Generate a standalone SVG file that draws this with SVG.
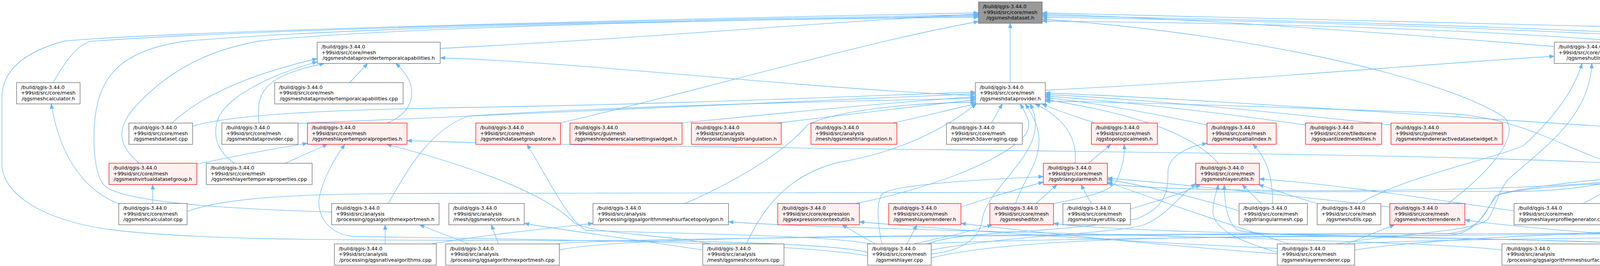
<svg xmlns="http://www.w3.org/2000/svg" width="7162" height="681" viewBox="0 0 7162 681">
<style>
text{font-family:"DejaVu Sans","Liberation Sans",sans-serif;font-size:12.8px;fill:#000}
.c{text-anchor:middle}
.n rect{fill:#ffffff;stroke:#666666;stroke-width:1.3}
.r rect{fill:#fff0f0;stroke:#ff0000;stroke-width:1.3}
.m rect{fill:#999999;stroke:#666666;stroke-width:1.3}
#edges path{fill:none;stroke:#63b8ff;stroke-width:1.3;marker-end:url(#a)}
</style>
<defs>
<marker id="a" markerUnits="userSpaceOnUse" markerWidth="13" markerHeight="10" refX="12" refY="4.5" orient="auto" overflow="visible"><path d="M0,0 L12,4.5 L0,9 z" fill="#63b8ff" stroke="#63b8ff" stroke-width="1"/></marker>
</defs>
<rect x="0" y="0" width="7162" height="681" fill="#ffffff"/>
<g id="edges">
<path d="M2586,211.5 L2586,59.5"/>
<path d="M1127,124 C1700,95 2200,50 2505,36"/>
<path d="M136,211.5 C160,170 190,120 230,106 C700,70 2000,46 2505,38"/>
<path d="M356,418 C300,370 300,330 340,280 C420,190 520,130 665,105 C1000,68 2000,48 2505,41"/>
<path d="M849,543 C600,535 320,520 268,476 C235,440 238,330 245,290 C260,180 330,125 478,105 C1000,62 2000,49 2505,44"/>
<path d="M2221,646 C2100,618 1700,615 1200,615 C800,615 500,612 300,590 C120,570 5,500 5,420 L5,250 C5,170 80,128 165,105 C500,75 2000,43 2505,33"/>
<path d="M1433,315 C1800,230 2200,110 2505,55"/>
<path d="M3979,119 C3500,80 3000,45 2668,36"/>
<path d="M6198,128 C5000,86 3500,45 2668,33"/>
<path d="M4634,211.5 C4590,180 4530,120 4400,96 C3800,62 3000,46 2668,40"/>
<path d="M6054,418 C5800,330 5200,190 4800,127 C4000,72 3200,52 2668,44"/>
<path d="M3707,521 C3800,450 3900,350 3850,300 C3700,200 3200,85 2668,49"/>
<path d="M4468,418 C4450,320 4350,200 4143,105 C3700,70 3100,58 2668,54"/>
<path d="M895,211.5 L941,162.5"/>
<path d="M2497,245 C2000,222 1500,160 1127,148"/>
<path d="M440,315 C500,260 600,200 812,150"/>
<path d="M663,315 C655,240 670,195 830,162.5"/>
<path d="M990,315 C1060,290 1080,220 1013,162.5"/>
<path d="M600,418 C560,390 540,350 560,300 C590,240 700,190 812,158"/>
<path d="M2676,231 C3200,205 3700,160 3979,144"/>
<path d="M4626,651 C5500,650 6400,632 6900,615 C7100,600 7155,560 7155,480 L7155,330 C7155,240 7090,197 6994,197 C6800,197 6700,205 6562,205 C6000,185 4800,150 4143,137"/>
<path d="M4200,624.5 C4400,612 6000,607 6562,605 C6900,600 7070,590 7090,560 C7108,530 7105,480 7105,420 L7105,360 C7105,300 7050,265 6994,262 C6800,250 6700,235 6562,231 C6000,190 4800,152 4143,141"/>
<path d="M3480,521 C3600,450 3850,400 3902,371 C3980,300 4030,230 4050,162.5"/>
<path d="M3420,624.5 C3550,600 3780,595 3810,560 C3830,530 3830,500 3860,460 C3950,380 4070,300 4075,162.5"/>
<path d="M6895,521 C6700,400 6500,260 6371,162.5"/>
<path d="M304,522 C200,480 150,380 131,266"/>
<path d="M391,521 L391,472.5"/>
<path d="M479,541 C600,500 800,495 1200,495 L3900,490 C4000,488 4080,475 4123,466"/>
<path d="M493,323 C600,290 900,280 1200,275 C1800,265 2200,245 2497,236"/>
<path d="M763,316 C1400,290 2100,255 2497,240"/>
<path d="M1740,315 C2000,290 2300,260 2497,248"/>
<path d="M1990,315 C2200,290 2400,265 2497,256"/>
<path d="M2285,315 C2380,295 2450,275 2500,266"/>
<path d="M2538,315 L2566,266"/>
<path d="M2802,315 C2760,300 2710,285 2668,266"/>
<path d="M2752,418 C2760,350 2720,300 2650,266"/>
<path d="M994,521 C1040,440 1100,330 1200,297 C1600,270 2200,258 2497,252"/>
<path d="M1753,521 C1850,480 2000,400 2068,319 C2150,280 2350,262 2497,262"/>
<path d="M2190,521 C2350,490 2560,420 2625,345 C2645,315 2625,290 2612,266"/>
<path d="M2600,521 C2620,460 2660,420 2660,360 C2660,320 2640,290 2625,266"/>
<path d="M2384,650 C2480,640 2510,600 2515,560 C2530,470 2700,380 2637,266"/>
<path d="M3090,320 C2950,290 2800,262 2676,250"/>
<path d="M3342,320 C3100,285 2850,258 2676,246"/>
<path d="M3561,320 C3200,280 2900,252 2676,242"/>
<path d="M4129,325 C3500,285 3000,250 2676,238"/>
<path d="M3119,418 C3050,340 2900,290 2676,255"/>
<path d="M4130,418 C4000,380 3900,300 3700,290 C3300,275 2900,262 2676,259"/>
<path d="M1911,624.5 C1940,560 2000,450 2150,415 C2300,390 2420,330 2499,266"/>
<path d="M4376,315 C4450,290 4520,280 4560,266"/>
<path d="M4953,521 C4850,420 4760,330 4694,266"/>
<path d="M6870,521 C6600,450 5500,300 4779,242"/>
<path d="M504,420 C600,400 700,380 787,367"/>
<path d="M730,418 L838,369.5"/>
<path d="M2221,655 C2000,615 1200,612 900,605 C830,595 810,540 818,502 C830,450 860,400 883,369.5"/>
<path d="M4130,418 C3500,385 1800,385 1042,360"/>
<path d="M1820,624.5 C1700,600 1520,600 1470,570 C1420,520 1300,450 990,369.5"/>
<path d="M2230,624.5 C2100,600 1700,598 1500,590 C1450,560 1400,450 1349,369.5"/>
<path d="M2786,418 L2844,369.5"/>
<path d="M2698,521 C2780,505 2850,490 2860,460 C2875,420 2880,400 2878,369.5"/>
<path d="M3258,521 C3258,450 3240,400 3207,369.5"/>
<path d="M2375,624.5 C2450,590 2700,600 2910,560 C2990,530 2990,480 2990,440 C2990,400 3040,375 3090,367"/>
<path d="M2652,521 L2706,472.5"/>
<path d="M2794,521 L2767,472.5"/>
<path d="M2460,530 C2550,500 2620,480 2671,466"/>
<path d="M2258,624.5 C2248,580 2240,520 2260,495 C2300,470 2550,458 2671,452"/>
<path d="M3172,540 C3050,500 2900,470 2835,460"/>
<path d="M3300,624.5 C3100,560 2900,490 2835,466"/>
<path d="M3558,530 C3300,500 3000,470 2835,456"/>
<path d="M4123,465 C3800,495 3000,495 2835,470"/>
<path d="M3229,521 L3180,472.5"/>
<path d="M3372,521 C3300,500 3260,485 3222,472.5"/>
<path d="M3270,646 C3180,620 3110,590 3105,545 C3105,510 3115,490 3119,472.5"/>
<path d="M4250,624.5 C3800,606 3250,610 3170,590 C3140,570 3135,520 3134,472.5"/>
<path d="M3876,540 C3600,500 3400,470 3224,458"/>
<path d="M2894,535 C2980,510 3040,490 3073,472.5"/>
<path d="M2384,640 C2600,600 2850,600 2930,575 C2990,550 3020,500 3061,470"/>
<path d="M4053,521 L4143,472.5"/>
<path d="M4309,624.5 C4300,560 4270,510 4246,472.5"/>
<path d="M4150,624.5 C4230,590 4240,530 4227,472.5"/>
<path d="M3468,640 C3700,605 4100,600 4160,590 C4200,570 4210,520 4208,472.5"/>
<path d="M4401,521 L4282,472.5"/>
<path d="M4655,521 C4500,500 4350,485 4287,464"/>
<path d="M4852,524 C4600,495 4400,480 4287,466"/>
<path d="M5131,524 C4800,490 4400,478 4287,468"/>
<path d="M5812,530 C5200,495 4500,480 4287,470"/>
<path d="M1432,640 C1600,602 2500,600 3700,598 C3800,596 3810,520 3830,500 C3900,480 4050,472 4123,470"/>
<path d="M2384,660 C2600,610 3000,605 3700,603 C3795,601 3805,520 3838,497 C3900,480 4060,462 4123,458"/>
<path d="M6811,521 C6000,500 4800,485 4287,460"/>
<path d="M4472,521 L4472,472.5"/>
<path d="M4657,521 C4620,505 4580,490 4545,472.5"/>
<path d="M5380,521 L5427,472.5"/>
<path d="M5826,521 C5750,505 5650,485 5615,472.5"/>
<path d="M2370,624.5 C2700,600 5200,600 5690,578 C5720,560 5715,520 5700,500 C5680,485 5650,478 5610,472.5"/>
<path d="M3460,624.5 C3700,605 5400,602 5735,582 C5765,560 5765,520 5740,500 C5700,485 5660,478 5620,472.5"/>
<path d="M4815,521 C5000,495 5200,470 5367,456"/>
<path d="M5687,524 C5800,510 5900,490 5999,472.5"/>
<path d="M6297,521 L6206,472.5"/>
<path d="M6527,527 C6450,510 6350,490 6283,470"/>
<path d="M1425,624.5 C1600,605 3000,600 4500,596 C5500,592 5950,590 6080,580 C6120,560 6135,520 6136,472.5"/>
<path d="M4190,624.5 C4400,606 5900,594 6130,586 C6160,560 6160,520 6151,472.5"/>
<path d="M986,624.5 L986,575.5"/>
<path d="M1200,624.5 L1074,575.5"/>
<path d="M1276,624.5 L1258,575.5"/>
<path d="M1799,640 C1600,610 1450,590 1342,572"/>
<path d="M3845,640 C3600,610 2200,592 1865,568"/>
<path d="M1105,624.5 C1250,600 1400,585 1518,572"/>
<path d="M2240,624.5 L2156,575.5"/>
<path d="M3270,636 C2800,615 2400,585 2200,568"/>
<path d="M2322,624.5 L2347,575.5"/>
<path d="M3270,650 C3000,630 2700,600 2460,572"/>
<path d="M2340,624.5 C2400,610 2480,595 2540,575.5"/>
<path d="M4240,624.5 C3500,600 2900,598 2697,572"/>
<path d="M4450,624.5 C4200,605 3900,585 3750,563"/>
<path d="M3448,624.5 L3570,575.5"/>
<path d="M4705,521 C4690,470 4650,420 4594,405 C4500,390 4420,380 4380,369.5"/>
</g>
<g id="n0" class="m"><rect x="2505" y="5" width="163" height="54.5"/><text x="2516" y="21">/build/qgis-3.44.0</text><text x="2516" y="35.5">+99sid/src/core/mesh</text><text class="c" x="2586.5" y="50">/qgsmeshdataset.h</text></g>
<g id="n1" class="n"><rect x="812" y="108" width="315" height="54.5"/><text x="823" y="124">/build/qgis-3.44.0</text><text x="823" y="138.5">+99sid/src/core/mesh</text><text class="c" x="969.5" y="153">/qgsmeshdataprovidertemporalcapabilities.h</text></g>
<g id="n2" class="n"><rect x="3979" y="108" width="164" height="54.5"/><text x="3990" y="124">/build/qgis-3.44.0</text><text x="3990" y="138.5">+99sid/src/core/mesh</text><text class="c" x="4061" y="153">/qgsmeshutils.h</text></g>
<g id="n3" class="n"><rect x="6198" y="108" width="254" height="54.5"/><text x="6209" y="124">/build/qgis-3.44.0</text><text x="6209" y="138.5">+99sid/src/gui/mesh</text><text class="c" x="6325" y="153">/qgsmeshdatasetgrouptreewidget.h</text></g>
<g id="n4" class="n"><rect x="42.5" y="211.5" width="162.5" height="54.5"/><text x="53.5" y="227.5">/build/qgis-3.44.0</text><text x="53.5" y="242">+99sid/src/core/mesh</text><text class="c" x="123.75" y="256.5">/qgsmeshcalculator.h</text></g>
<g id="n5" class="n"><rect x="703" y="211.5" width="329" height="54.5"/><text x="714" y="227.5">/build/qgis-3.44.0</text><text x="714" y="242">+99sid/src/core/mesh</text><text class="c" x="867.5" y="256.5">/qgsmeshdataprovidertemporalcapabilities.cpp</text></g>
<g id="n6" class="n"><rect x="2497" y="211.5" width="179" height="54.5"/><text x="2508" y="227.5">/build/qgis-3.44.0</text><text x="2508" y="242">+99sid/src/core/mesh</text><text class="c" x="2586.5" y="256.5">/qgsmeshdataprovider.h</text></g>
<g id="n7" class="n"><rect x="4541" y="211.5" width="238" height="54.5"/><text x="4552" y="227.5">/build/qgis-3.44.0</text><text x="4552" y="242">+99sid/src/gui/mesh</text><text class="c" x="4660" y="256.5">/qgsmeshdatasetgrouptreeview.h</text></g>
<g id="n8" class="n"><rect x="330" y="315" width="163" height="54.5"/><text x="341" y="331">/build/qgis-3.44.0</text><text x="341" y="345.5">+99sid/src/core/mesh</text><text class="c" x="411.5" y="360">/qgsmeshdataset.cpp</text></g>
<g id="n9" class="n"><rect x="568" y="315" width="195" height="54.5"/><text x="579" y="331">/build/qgis-3.44.0</text><text x="579" y="345.5">+99sid/src/core/mesh</text><text class="c" x="665.5" y="360">/qgsmeshdataprovider.cpp</text></g>
<g id="n10" class="r"><rect x="787" y="315" width="255" height="54.5"/><text x="798" y="331">/build/qgis-3.44.0</text><text x="798" y="345.5">+99sid/src/core/mesh</text><text class="c" x="914.5" y="360">/qgsmeshlayertemporalproperties.h</text></g>
<g id="n11" class="r"><rect x="1218" y="315" width="217" height="54.5"/><text x="1229" y="331">/build/qgis-3.44.0</text><text x="1229" y="345.5">+99sid/src/core/mesh</text><text class="c" x="1326.5" y="360">/qgsmeshdatasetgroupstore.h</text></g>
<g id="n12" class="r"><rect x="1459" y="315" width="287" height="54.5"/><text x="1470" y="331">/build/qgis-3.44.0</text><text x="1470" y="345.5">+99sid/src/gui/mesh</text><text class="c" x="1602.5" y="360">/qgsmeshrendererscalarsettingswidget.h</text></g>
<g id="n13" class="r"><rect x="1770" y="315" width="230" height="54.5"/><text x="1781" y="331">/build/qgis-3.44.0</text><text x="1781" y="345.5">+99sid/src/analysis</text><text class="c" x="1885" y="360">/interpolation/qgstriangulation.h</text></g>
<g id="n14" class="r"><rect x="2076" y="315" width="220" height="54.5"/><text x="2087" y="331">/build/qgis-3.44.0</text><text x="2087" y="345.5">+99sid/src/analysis</text><text class="c" x="2186" y="360">/mesh/qgsmeshtriangulation.h</text></g>
<g id="n15" class="n"><rect x="2423" y="315" width="194" height="54.5"/><text x="2434" y="331">/build/qgis-3.44.0</text><text x="2434" y="345.5">+99sid/src/core/mesh</text><text class="c" x="2520" y="360">/qgsmesh3daveraging.cpp</text></g>
<g id="n16" class="r"><rect x="2794" y="315" width="169" height="54.5"/><text x="2805" y="331">/build/qgis-3.44.0</text><text x="2805" y="345.5">+99sid/src/core/mesh</text><text class="c" x="2878.5" y="360">/qgstopologicalmesh.h</text></g>
<g id="n17" class="r"><rect x="3090" y="315" width="177" height="54.5"/><text x="3101" y="331">/build/qgis-3.44.0</text><text x="3101" y="345.5">+99sid/src/core/mesh</text><text class="c" x="3178.5" y="360">/qgsmeshspatialindex.h</text></g>
<g id="n18" class="r"><rect x="3342" y="315" width="195" height="54.5"/><text x="3353" y="331">/build/qgis-3.44.0</text><text x="3353" y="345.5">+99sid/src/core/tiledscene</text><text class="c" x="3439.5" y="360">/qgsquantizedmeshtiles.h</text></g>
<g id="n19" class="r"><rect x="3561" y="315" width="285" height="54.5"/><text x="3572" y="331">/build/qgis-3.44.0</text><text x="3572" y="345.5">+99sid/src/gui/mesh</text><text class="c" x="3703.5" y="360">/qgsmeshrendereractivedatasetwidget.h</text></g>
<g id="n20" class="r"><rect x="4129" y="315" width="290" height="54.5"/><text x="4140" y="331">/build/qgis-3.44.0</text><text x="4140" y="345.5">+99sid/src/gui/mesh</text><text class="c" x="4274" y="360">/qgsmeshrenderervectorsettingswidget.h</text></g>
<g id="n21" class="r"><rect x="279" y="418" width="225" height="54.5"/><text x="290" y="434">/build/qgis-3.44.0</text><text x="290" y="448.5">+99sid/src/core/mesh</text><text class="c" x="391.5" y="463">/qgsmeshvirtualdatasetgroup.h</text></g>
<g id="n22" class="n"><rect x="528" y="418" width="271" height="54.5"/><text x="539" y="434">/build/qgis-3.44.0</text><text x="539" y="448.5">+99sid/src/core/mesh</text><text class="c" x="663.5" y="463">/qgsmeshlayertemporalproperties.cpp</text></g>
<g id="n23" class="r"><rect x="2671" y="418" width="164" height="54.5"/><text x="2682" y="434">/build/qgis-3.44.0</text><text x="2682" y="448.5">+99sid/src/core/mesh</text><text class="c" x="2753" y="463">/qgstriangularmesh.h</text></g>
<g id="n24" class="r"><rect x="3061" y="418" width="163" height="54.5"/><text x="3072" y="434">/build/qgis-3.44.0</text><text x="3072" y="448.5">+99sid/src/core/mesh</text><text class="c" x="3142.5" y="463">/qgsmeshlayerutils.h</text></g>
<g id="n25" class="r"><rect x="4123" y="418" width="164" height="54.5"/><text x="4134" y="434">/build/qgis-3.44.0</text><text x="4134" y="448.5">+99sid/src/core/mesh</text><text class="c" x="4205" y="463">/qgsmeshlayer.h</text></g>
<g id="n26" class="n"><rect x="4358" y="418" width="227" height="54.5"/><text x="4369" y="434">/build/qgis-3.44.0</text><text x="4369" y="448.5">+99sid/src/gui/mesh</text><text class="c" x="4471.5" y="463">/qgsmeshstaticdatasetwidget.h</text></g>
<g id="n27" class="n"><rect x="5367" y="418" width="257" height="54.5"/><text x="5378" y="434">/build/qgis-3.44.0</text><text x="5378" y="448.5">+99sid/src/core/mesh</text><text class="c" x="5495.5" y="463">/qgsmeshlayerelevationproperties.h</text></g>
<g id="n28" class="n"><rect x="5999" y="418" width="284" height="54.5"/><text x="6010" y="434">/build/qgis-3.44.0</text><text x="6010" y="448.5">+99sid/src/core/processing</text><text class="c" x="6141" y="463">/qgsprocessingparametermeshdataset.h</text></g>
<g id="n57" class="n"><rect x="304" y="521" width="175" height="54.5"/><text x="315" y="537">/build/qgis-3.44.0</text><text x="315" y="551.5">+99sid/src/core/mesh</text><text class="c" x="391.5" y="566">/qgsmeshcalculator.cpp</text></g>
<g id="n29" class="n"><rect x="849" y="521" width="275" height="54.5"/><text x="860" y="537">/build/qgis-3.44.0</text><text x="860" y="551.5">+99sid/src/analysis</text><text class="c" x="986.5" y="566">/processing/qgsalgorithmexportmesh.h</text></g>
<g id="n30" class="n"><rect x="1149" y="521" width="193" height="54.5"/><text x="1160" y="537">/build/qgis-3.44.0</text><text x="1160" y="551.5">+99sid/src/analysis</text><text class="c" x="1245.5" y="566">/mesh/qgsmeshcontours.h</text></g>
<g id="n31" class="n"><rect x="1518" y="521" width="347" height="54.5"/><text x="1529" y="537">/build/qgis-3.44.0</text><text x="1529" y="551.5">+99sid/src/analysis</text><text class="c" x="1691.5" y="566">/processing/qgsalgorithmmeshsurfacetopolygon.h</text></g>
<g id="n32" class="r"><rect x="1991" y="521" width="209" height="54.5"/><text x="2002" y="537">/build/qgis-3.44.0</text><text x="2002" y="551.5">+99sid/src/core/expression</text><text class="c" x="2095.5" y="566">/qgsexpressioncontextutils.h</text></g>
<g id="n33" class="r"><rect x="2275" y="521" width="185" height="54.5"/><text x="2286" y="537">/build/qgis-3.44.0</text><text x="2286" y="551.5">+99sid/src/core/mesh</text><text class="c" x="2367.5" y="566">/qgsmeshlayerrenderer.h</text></g>
<g id="n34" class="r"><rect x="2534" y="521" width="163" height="54.5"/><text x="2545" y="537">/build/qgis-3.44.0</text><text x="2545" y="551.5">+99sid/src/core/mesh</text><text class="c" x="2615.5" y="566">/qgsmesheditor.h</text></g>
<g id="n35" class="n"><rect x="2721" y="521" width="173" height="54.5"/><text x="2732" y="537">/build/qgis-3.44.0</text><text x="2732" y="551.5">+99sid/src/core/mesh</text><text class="c" x="2807.5" y="566">/qgsmeshlayerutils.cpp</text></g>
<g id="n36" class="n"><rect x="3172" y="521" width="175" height="54.5"/><text x="3183" y="537">/build/qgis-3.44.0</text><text x="3183" y="551.5">+99sid/src/core/mesh</text><text class="c" x="3259.5" y="566">/qgstriangularmesh.cpp</text></g>
<g id="n37" class="n"><rect x="3372" y="521" width="163" height="54.5"/><text x="3383" y="537">/build/qgis-3.44.0</text><text x="3383" y="551.5">+99sid/src/core/mesh</text><text class="c" x="3453.5" y="566">/qgsmeshutils.cpp</text></g>
<g id="n38" class="r"><rect x="3558" y="521" width="192" height="54.5"/><text x="3569" y="537">/build/qgis-3.44.0</text><text x="3569" y="551.5">+99sid/src/core/mesh</text><text class="c" x="3654" y="566">/qgsmeshvectorrenderer.h</text></g>
<g id="n39" class="n"><rect x="3876" y="521" width="248" height="54.5"/><text x="3887" y="537">/build/qgis-3.44.0</text><text x="3887" y="551.5">+99sid/src/core/mesh</text><text class="c" x="4000" y="566">/qgsmeshlayerprofilegenerator.cpp</text></g>
<g id="n40" class="n"><rect x="4351" y="521" width="242" height="54.5"/><text x="4362" y="537">/build/qgis-3.44.0</text><text x="4362" y="551.5">+99sid/src/gui/mesh</text><text class="c" x="4472" y="566">/qgsmeshstaticdatasetwidget.cpp</text></g>
<g id="n41" class="n"><rect x="4617" y="521" width="211" height="54.5"/><text x="4628" y="537">/build/qgis-3.44.0</text><text x="4628" y="551.5">+99sid/src/gui/mesh</text><text class="c" x="4722.5" y="566">/qgsmeshlayerproperties.cpp</text></g>
<g id="n42" class="n"><rect x="4852" y="521" width="255" height="54.5"/><text x="4863" y="537">/build/qgis-3.44.0</text><text x="4863" y="551.5">+99sid/src/gui/mesh</text><text class="c" x="4979.5" y="566">/qgsmeshdatasetgrouptreeview.cpp</text></g>
<g id="n43" class="n"><rect x="5131" y="521" width="273" height="54.5"/><text x="5142" y="537">/build/qgis-3.44.0</text><text x="5142" y="551.5">+99sid/src/core/mesh</text><text class="c" x="5267.5" y="566">/qgsmeshlayerelevationproperties.cpp</text></g>
<g id="n44" class="r"><rect x="5427" y="521" width="260" height="54.5"/><text x="5438" y="537">/build/qgis-3.44.0</text><text x="5438" y="551.5">+99sid/src/gui/processing</text><text class="c" x="5557" y="566">/qgsprocessingmeshdatasetwidget.h</text></g>
<g id="n45" class="n"><rect x="5812" y="521" width="266" height="54.5"/><text x="5823" y="537">/build/qgis-3.44.0</text><text x="5823" y="551.5">+99sid/src/gui/elevation</text><text class="c" x="5945" y="566">/qgselevationprofilelayertreeview.cpp</text></g>
<g id="n46" class="n"><rect x="6204" y="521" width="298" height="54.5"/><text x="6215" y="537">/build/qgis-3.44.0</text><text x="6215" y="551.5">+99sid/src/core/processing</text><text class="c" x="6353" y="566">/qgsprocessingparametermeshdataset.cpp</text></g>
<g id="n47" class="n"><rect x="6527" y="521" width="197" height="54.5"/><text x="6538" y="537">/build/qgis-3.44.0</text><text x="6538" y="551.5">+99sid/src/core/processing</text><text class="c" x="6625.5" y="566">/qgsprocessingregistry.cpp</text></g>
<g id="n48" class="n"><rect x="6799" y="521" width="268" height="54.5"/><text x="6810" y="537">/build/qgis-3.44.0</text><text x="6810" y="551.5">+99sid/src/gui/mesh</text><text class="c" x="6933" y="566">/qgsmeshdatasetgrouptreewidget.cpp</text></g>
<g id="n49" class="n"><rect x="856" y="624.5" width="261" height="54.5"/><text x="867" y="640.5">/build/qgis-3.44.0</text><text x="867" y="655">+99sid/src/analysis</text><text class="c" x="986.5" y="669.5">/processing/qgsnativealgorithms.cpp</text></g>
<g id="n50" class="n"><rect x="1141" y="624.5" width="291" height="54.5"/><text x="1152" y="640.5">/build/qgis-3.44.0</text><text x="1152" y="655">+99sid/src/analysis</text><text class="c" x="1286.5" y="669.5">/processing/qgsalgorithmexportmesh.cpp</text></g>
<g id="n51" class="n"><rect x="1799" y="624.5" width="208" height="54.5"/><text x="1810" y="640.5">/build/qgis-3.44.0</text><text x="1810" y="655">+99sid/src/analysis</text><text class="c" x="1903" y="669.5">/mesh/qgsmeshcontours.cpp</text></g>
<g id="n52" class="n"><rect x="2221" y="624.5" width="163" height="54.5"/><text x="2232" y="640.5">/build/qgis-3.44.0</text><text x="2232" y="655">+99sid/src/core/mesh</text><text class="c" x="2302.5" y="669.5">/qgsmeshlayer.cpp</text></g>
<g id="n53" class="n"><rect x="3270" y="624.5" width="198" height="54.5"/><text x="3281" y="640.5">/build/qgis-3.44.0</text><text x="3281" y="655">+99sid/src/core/mesh</text><text class="c" x="3369" y="669.5">/qgsmeshlayerrenderer.cpp</text></g>
<g id="n54" class="n"><rect x="3845" y="624.5" width="363" height="54.5"/><text x="3856" y="640.5">/build/qgis-3.44.0</text><text x="3856" y="655">+99sid/src/analysis</text><text class="c" x="4026.5" y="669.5">/processing/qgsalgorithmmeshsurfacetopolygon.cpp</text></g>
<g id="n55" class="n"><rect x="4231" y="624.5" width="163" height="54.5"/><text x="4242" y="640.5">/build/qgis-3.44.0</text><text x="4242" y="655">+99sid/src/core/mesh</text><text class="c" x="4312.5" y="669.5">/qgsmesheditor.cpp</text></g>
<g id="n56" class="n"><rect x="4419" y="624.5" width="207" height="54.5"/><text x="4430" y="640.5">/build/qgis-3.44.0</text><text x="4430" y="655">+99sid/src/core/mesh</text><text class="c" x="4522.5" y="669.5">/qgsmeshvectorrenderer.cpp</text></g>
</svg>
